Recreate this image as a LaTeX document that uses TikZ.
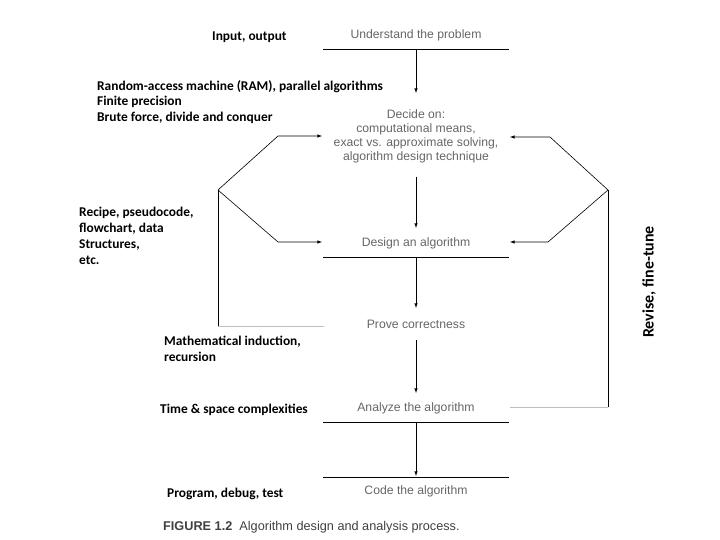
\documentclass[tikz,border=0pt]{standalone}
\usepackage{fontspec}
\setmainfont{Liberation Sans}
\newfontfamily\annfont{Carlito}
\begin{document}
\begin{tikzpicture}[x=1pt,y=-1pt,
  proc/.style={text=black!60, font=\fontsize{12.2}{14}\selectfont, align=center, inner sep=0},
  ann/.style={font=\annfont\bfseries\fontsize{13.4}{15.5}\selectfont, align=left, anchor=west, inner sep=0},
  arr/.style={-latex, line width=0.6pt},
  ln/.style={line width=0.6pt},
  gl/.style={line width=0.6pt, draw=black!25}]
\useasboundingbox (0,0) rectangle (720,540);
\node[proc] (und) at (416,35) {Understand the problem};
\node[proc] (dec) at (416,136) {Decide on:\\computational means,\\exact vs. approximate solving,\\algorithm design technique};
\node[proc] (des) at (416,243) {Design an algorithm};
\node[proc] (pro) at (416,324) {Prove correctness};
\node[proc] (ana) at (416,408) {Analyze the algorithm};
\node[proc] (cod) at (416,491) {Code the algorithm};
\coordinate (u1) at (323,49); \coordinate (u2) at (509,49);
\coordinate (d1) at (323,257); \coordinate (d2) at (509,257);
\coordinate (a1) at (323,422); \coordinate (a2) at (509,422);
\coordinate (c1) at (323,477); \coordinate (c2) at (509,477);
\draw[ln] (u1) -- (u2); \draw[ln] (d1) -- (d2); \draw[ln] (a1) -- (a2); \draw[ln] (c1) -- (c2);
\draw[arr] (416,49) -- (416,93);
\draw[arr] (416,177) -- (416,228);
\draw[arr] (416,257) -- (416,308);
\draw[arr] (416,340) -- (416,393);
\draw[arr] (416,422) -- (416,476);
% left loop
\coordinate (lv) at (218,190);
\draw[gl] (324,326) -- (218,326);
\draw[ln] (218,326) -- (lv);
\draw[arr] (lv) -- (278,136) -- (322,136);
\draw[arr] (lv) -- (278,242) -- (322,242);
% right loop
\coordinate (rv) at (608,190);
\draw[gl] (510,407) -- (608,407);
\draw[ln] (608,407) -- (rv);
\draw[arr] (rv) -- (550,137) -- (510,137);
\draw[arr] (rv) -- (548,242) -- (510,242);
% annotations
\node[ann] (n1) at (212,37) {Input, output};
\node[ann, anchor=north west] (n2) at (97,80) {Random-access machine (RAM), parallel algorithms\\Finite precision\\Brute force, divide and conquer};
\node[ann, anchor=north west, font=\annfont\bfseries\fontsize{13.4}{16}\selectfont] (n3) at (79,207) {Recipe, pseudocode,\\flowchart, data\\Structures,\\etc.};
\node[ann, anchor=north west, font=\annfont\bfseries\fontsize{13.4}{16}\selectfont] (n4) at (164,336) {Mathematical induction,\\recursion};
\node[ann] (n5) at (160,410) {Time \& space complexities};
\node[ann] (n6) at (167,494) {Program, debug, test};
\node[ann, anchor=center, rotate=90, font=\annfont\bfseries\fontsize{16}{18}\selectfont] (n7) at (649,282) {Revise, fine-tune};
\node[anchor=west, inner sep=0, text=black!75, font=\fontsize{12.7}{14}\selectfont] (cap) at (163,527) {\textbf{FIGURE 1.2}\ \ Algorithm design and analysis process.};
\end{tikzpicture}
\end{document}
